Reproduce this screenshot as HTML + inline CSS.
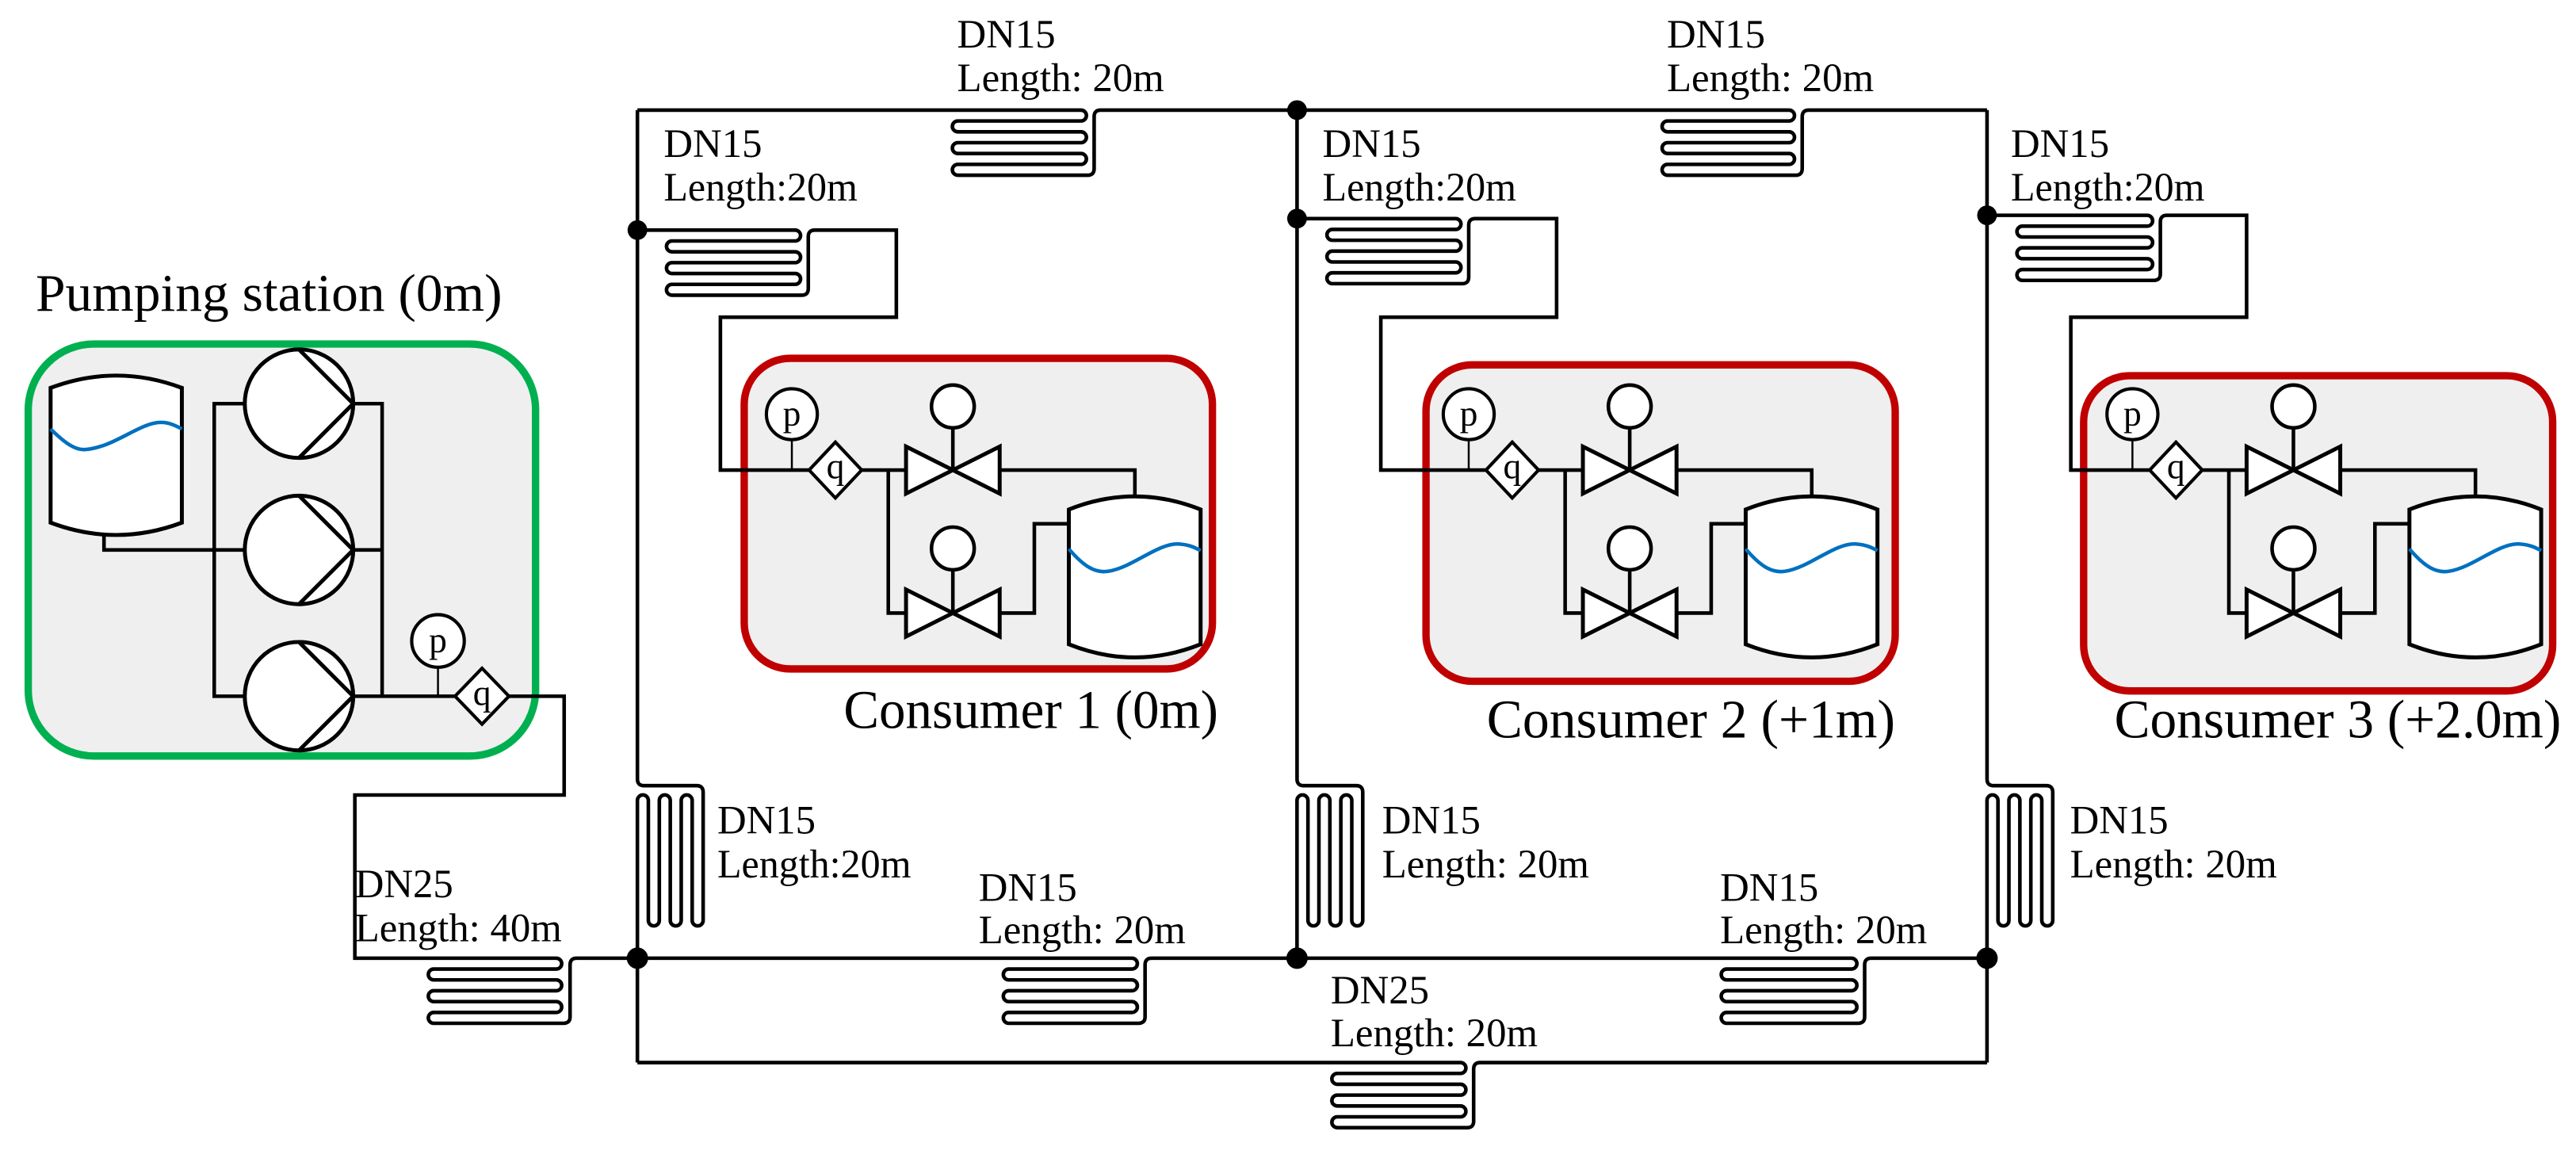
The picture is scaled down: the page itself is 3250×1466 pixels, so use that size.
<!DOCTYPE html>
<html><head><meta charset="utf-8"><style>
html,body{margin:0;padding:0;background:#fff;}
svg{display:block;}
text{font-family:"Liberation Serif","Times New Roman","Noto Serif CJK SC","DejaVu Serif",serif;fill:#000;}
</style></head><body>
<svg width="3250" height="1466" viewBox="0 0 1568 707" preserveAspectRatio="none" xmlns="http://www.w3.org/2000/svg" font-family="Liberation Serif, Times New Roman, Noto Serif CJK SC, serif">
<defs>
<g id="cons">
  <path d="M524.5 286 H551.5 M540.7 286 V373 H551.5 M608.5 286 H690.8 V302 M608.5 373 H629.6 V318.7 H650.6" fill="none" stroke="#000" stroke-width="2.2"/>
  <path d="M580 286 V260 M580 373 V346.7" stroke="#000" stroke-width="2.2"/>
  <path d="M551.5 271.7 V300.3 L608.5 271.7 V300.3 Z" fill="#fff" stroke="#000" stroke-width="2.4" stroke-linejoin="miter"/>
  <path d="M551.5 358.7 V387.3 L608.5 358.7 V387.3 Z" fill="#fff" stroke="#000" stroke-width="2.4"/>
  <circle cx="580" cy="247.3" r="13" fill="#fff" stroke="#000" stroke-width="2.2"/>
  <circle cx="580" cy="333.7" r="13" fill="#fff" stroke="#000" stroke-width="2.2"/>
  <path d="M650.6 310 Q690.7 294 730.8 310 V392 Q690.7 408 650.6 392 Z" fill="#fff" stroke="#000" stroke-width="2.4"/>
  <path d="M650.6 334 C660 345 667 349 675 347.5 C690 345 705 330 718 331 C724 331.5 727 333 730.8 335" fill="none" stroke="#0070c0" stroke-width="2.2"/>
  <path d="M482 267.5 V286" stroke="#000" stroke-width="1.2"/>
  <circle cx="482" cy="252" r="15.5" fill="#fff" stroke="#000" stroke-width="2"/>
  <text x="482" y="259" font-size="22" text-anchor="middle">p</text>
  <path d="M492.5 286 L508.5 269 L524.5 286 L508.5 303 Z" fill="#fff" stroke="#000" stroke-width="2"/>
  <text x="508.5" y="291" font-size="22" text-anchor="middle">q</text>
</g>
</defs>

<!-- Pumping station -->
<text x="21.7" y="189" font-size="32" textLength="284" lengthAdjust="spacingAndGlyphs">Pumping station (0m)</text>
<rect x="17.2" y="209.3" width="308.8" height="250.7" rx="40" fill="#efefef" stroke="#00b050" stroke-width="4.5"/>
<path d="M30.8 236 Q70.7 221 110.7 236 V318 Q70.7 333 30.8 318 Z" fill="#fff" stroke="#000" stroke-width="2.4"/>
<path d="M30.8 261 C40 270 46 274 52 273.5 C70 272 85 257 98 257 C103 257 107 259 110.7 261" fill="none" stroke="#0070c0" stroke-width="2.2"/>
<path d="M63.3 325.6 V334.6 H148 M148 245.6 H130.4 V423.6 H148 M216 245.6 H232.6 V423.6 H216 M216 334.6 H232.6 M232.6 423.6 H277" fill="none" stroke="#000" stroke-width="2.2"/>
<g fill="#fff" stroke="#000" stroke-width="2.4">
<circle cx="182" cy="245.6" r="33"/><circle cx="182" cy="334.6" r="33"/><circle cx="182" cy="423.6" r="33"/>
</g>
<path d="M182 212.6 L215 245.6 L182 278.6 M182 301.6 L215 334.6 L182 367.6 M182 390.6 L215 423.6 L182 456.6" fill="none" stroke="#000" stroke-width="2.4"/>
<path d="M266.6 406 V423.6" stroke="#000" stroke-width="1.2"/>
<circle cx="266.6" cy="390" r="16" fill="#fff" stroke="#000" stroke-width="2"/>
<text x="266.6" y="397" font-size="22" text-anchor="middle">p</text>
<path d="M277 423.6 L293.4 406.6 L309.8 423.6 L293.4 440.6 Z" fill="#fff" stroke="#000" stroke-width="2"/>
<text x="293.4" y="429" font-size="22" text-anchor="middle">q</text>

<g fill="none" stroke="#000" stroke-width="2.2">
<path d="M309.8 423.6 H343.4 V483.7 H216 V583 H338.6 a3.3 3.3 0 0 1 0 6.6 h-74.6 a3.3 3.3 0 0 0 0 6.6 h74.6 a3.3 3.3 0 0 1 0 6.6 h-74.6 a3.3 3.3 0 0 0 0 6.6 h74.6 a3.3 3.3 0 0 1 0 6.6 h-74.6 a3.3 3.3 0 0 0 0 6.6 h79 q4 0 4 -4 v-31.6 q0 -4 4 -4 H388"/>
<path d="M388 67 H658 a3.3 3.3 0 0 1 0 6.6 h-75 a3.3 3.3 0 0 0 0 6.6 h75 a3.3 3.3 0 0 1 0 6.6 h-75 a3.3 3.3 0 0 0 0 6.6 h75 a3.3 3.3 0 0 1 0 6.6 h-75 a3.3 3.3 0 0 0 0 6.6 h79 q4 0 4 -4 v-31.6 q0 -4 4 -4 H1089 a3.3 3.3 0 0 1 0 6.6 h-74 a3.3 3.3 0 0 0 0 6.6 h74 a3.3 3.3 0 0 1 0 6.6 h-74 a3.3 3.3 0 0 0 0 6.6 h74 a3.3 3.3 0 0 1 0 6.6 h-74 a3.3 3.3 0 0 0 0 6.6 h78 q4 0 4 -4 v-31.6 q0 -4 4 -4 H1209.5"/>
<path d="M388 583 H689 a3.3 3.3 0 0 1 0 6.6 h-75 a3.3 3.3 0 0 0 0 6.6 h75 a3.3 3.3 0 0 1 0 6.6 h-75 a3.3 3.3 0 0 0 0 6.6 h75 a3.3 3.3 0 0 1 0 6.6 h-75 a3.3 3.3 0 0 0 0 6.6 h79 q4 0 4 -4 v-31.6 q0 -4 4 -4 H1127 a3.3 3.3 0 0 1 0 6.6 h-76 a3.3 3.3 0 0 0 0 6.6 h76 a3.3 3.3 0 0 1 0 6.6 h-76 a3.3 3.3 0 0 0 0 6.6 h76 a3.3 3.3 0 0 1 0 6.6 h-76 a3.3 3.3 0 0 0 0 6.6 h80 q4 0 4 -4 v-31.6 q0 -4 4 -4 H1209.5"/>
<path d="M388 646.5 H889 a3.3 3.3 0 0 1 0 6.6 h-75 a3.3 3.3 0 0 0 0 6.6 h75 a3.3 3.3 0 0 1 0 6.6 h-75 a3.3 3.3 0 0 0 0 6.6 h75 a3.3 3.3 0 0 1 0 6.6 h-75 a3.3 3.3 0 0 0 0 6.6 h79 q4 0 4 -4 v-31.6 q0 -4 4 -4 H1209.5"/>
<path d="M388 67 V474 q0 4 4 4 H424 q4 0 4 4 V560 a3.33 3.33 0 0 1 -6.67 0 V487 a3.33 3.33 0 0 0 -6.67 0 V560 a3.33 3.33 0 0 1 -6.67 0 V487 a3.33 3.33 0 0 0 -6.67 0 V560 a3.33 3.33 0 0 1 -6.67 0 V487 a3.33 3.33 0 0 0 -6.67 0 V646.5"/>
<path d="M789.5 67 V474 q0 4 4 4 H825.5 q4 0 4 4 V560 a3.33 3.33 0 0 1 -6.67 0 V487 a3.33 3.33 0 0 0 -6.67 0 V560 a3.33 3.33 0 0 1 -6.67 0 V487 a3.33 3.33 0 0 0 -6.67 0 V560 a3.33 3.33 0 0 1 -6.67 0 V487 a3.33 3.33 0 0 0 -6.67 0 V583"/>
<path d="M1209.5 67 V474 q0 4 4 4 H1245.5 q4 0 4 4 V560 a3.33 3.33 0 0 1 -6.67 0 V487 a3.33 3.33 0 0 0 -6.67 0 V560 a3.33 3.33 0 0 1 -6.67 0 V487 a3.33 3.33 0 0 0 -6.67 0 V560 a3.33 3.33 0 0 1 -6.67 0 V487 a3.33 3.33 0 0 0 -6.67 0 V646.5"/>
</g>

<rect x="453" y="218" width="285" height="189" rx="28" fill="#efefef" stroke="#c00000" stroke-width="4.5"/>
<rect x="868" y="222" width="285.6" height="192.5" rx="28" fill="#efefef" stroke="#c00000" stroke-width="4.5"/>
<rect x="1268.3" y="228.6" width="285.5" height="191.8" rx="28" fill="#efefef" stroke="#c00000" stroke-width="4.5"/>

<g fill="none" stroke="#000" stroke-width="2.2">
<path d="M388 140 H484 a3.3 3.3 0 0 1 0 6.6 h-75 a3.3 3.3 0 0 0 0 6.6 h75 a3.3 3.3 0 0 1 0 6.6 h-75 a3.3 3.3 0 0 0 0 6.6 h75 a3.3 3.3 0 0 1 0 6.6 h-75 a3.3 3.3 0 0 0 0 6.6 h79 q4 0 4 -4 v-31.6 q0 -4 4 -4 H545.6 V193 H438.5 V286 H492.5"/>
<path d="M789.5 133 H886 a3.3 3.3 0 0 1 0 6.6 h-75 a3.3 3.3 0 0 0 0 6.6 h75 a3.3 3.3 0 0 1 0 6.6 h-75 a3.3 3.3 0 0 0 0 6.6 h75 a3.3 3.3 0 0 1 0 6.6 h-75 a3.3 3.3 0 0 0 0 6.6 h79 q4 0 4 -4 v-31.6 q0 -4 4 -4 H947.5 V193 H840.5 V286 H904.5"/>
<path d="M1209.5 131 H1307 a3.3 3.3 0 0 1 0 6.6 h-76 a3.3 3.3 0 0 0 0 6.6 h76 a3.3 3.3 0 0 1 0 6.6 h-76 a3.3 3.3 0 0 0 0 6.6 h76 a3.3 3.3 0 0 1 0 6.6 h-76 a3.3 3.3 0 0 0 0 6.6 h80 q4 0 4 -4 v-31.6 q0 -4 4 -4 H1367.5 V193 H1260.5 V286 H1308.5"/>
</g>

<use href="#cons"/>
<use href="#cons" transform="translate(412,0)"/>
<use href="#cons" transform="translate(816,0)"/>

<g fill="#000">
<circle cx="388" cy="140" r="6"/><circle cx="789.5" cy="67" r="6"/><circle cx="789.5" cy="133" r="6"/>
<circle cx="1209.5" cy="131" r="6"/><circle cx="388" cy="583" r="6.5"/><circle cx="789.5" cy="583" r="6.5"/>
<circle cx="1209.5" cy="583" r="6.5"/>
</g>

<g font-size="24.5">
<text x="582.6" y="29">DN15</text><text x="582.6" y="55.4" textLength="126" lengthAdjust="spacingAndGlyphs">Length: 20m</text>
<text x="1014.6" y="29">DN15</text><text x="1014.6" y="55.4" textLength="126" lengthAdjust="spacingAndGlyphs">Length: 20m</text>
<text x="404" y="95.5">DN15</text><text x="404" y="122" textLength="118" lengthAdjust="spacingAndGlyphs">Length:20m</text>
<text x="805" y="95.5">DN15</text><text x="805" y="122" textLength="118" lengthAdjust="spacingAndGlyphs">Length:20m</text>
<text x="1224" y="95.5">DN15</text><text x="1224" y="122" textLength="118" lengthAdjust="spacingAndGlyphs">Length:20m</text>
<text x="436.6" y="507">DN15</text><text x="436.6" y="533.8" textLength="118" lengthAdjust="spacingAndGlyphs">Length:20m</text>
<text x="841.3" y="507">DN15</text><text x="841.3" y="533.8" textLength="126" lengthAdjust="spacingAndGlyphs">Length: 20m</text>
<text x="1260" y="507">DN15</text><text x="1260" y="533.8" textLength="126" lengthAdjust="spacingAndGlyphs">Length: 20m</text>
<text x="216" y="546">DN25</text><text x="216" y="572.6" textLength="126" lengthAdjust="spacingAndGlyphs">Length: 40m</text>
<text x="595.7" y="548">DN15</text><text x="595.7" y="574" textLength="126" lengthAdjust="spacingAndGlyphs">Length: 20m</text>
<text x="1047" y="548">DN15</text><text x="1047" y="574" textLength="126" lengthAdjust="spacingAndGlyphs">Length: 20m</text>
<text x="810" y="610.6">DN25</text><text x="810" y="636.6" textLength="126" lengthAdjust="spacingAndGlyphs">Length: 20m</text>
</g>
<g font-size="33">
<text x="513.5" y="443" textLength="228" lengthAdjust="spacingAndGlyphs">Consumer 1 (0m)</text>
<text x="905" y="448.8" textLength="248.6" lengthAdjust="spacingAndGlyphs">Consumer 2 (+1m)</text>
<text x="1287" y="448.8" textLength="272" lengthAdjust="spacingAndGlyphs">Consumer 3 (+2.0m)</text>
</g>
</svg>
</body></html>
